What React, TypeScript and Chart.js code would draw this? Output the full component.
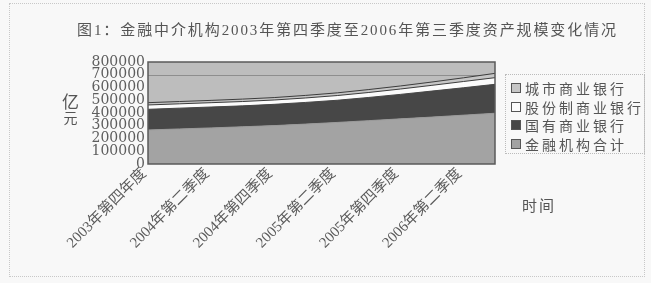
import React, { useEffect, useRef } from "react";
import { Chart, registerables } from "chart.js";

Chart.register(...registerables);

const categories = [
  "2003年第四年度",
  "2004年第一季度",
  "2004年第二季度",
  "2004年第三季度",
  "2004年第四季度",
  "2005年第一季度",
  "2005年第二季度",
  "2005年第三季度",
  "2005年第四季度",
  "2006年第一季度",
  "2006年第二季度",
  "2006年第三季度",
];
const shownTickIndexes = [0, 2, 4, 6, 8, 10];

const seriesNames = ["城市商业银行", "股份制商业银行", "国有商业银行", "金融机构合计"];

const totalInstitutions = [267000, 275000, 283000, 292000, 301000, 313000, 326000, 340000, 354000, 368000, 383000, 398000];
const stateBanks = [162000, 163000, 164000, 164000, 167000, 170000, 174000, 182000, 192000, 204000, 215000, 227000];
const jointStockBanks = [34000, 34000, 34000, 34000, 34000, 35000, 37000, 39000, 42000, 45000, 49000, 52000];
const cityBanks = [18000, 18000, 18000, 19000, 19000, 20000, 21000, 23000, 24000, 26000, 29000, 34000];

const yTicks = [0, 100000, 200000, 300000, 400000, 500000, 600000, 700000, 800000];

const title = "图1：金融中介机构2003年第四季度至2006年第三季度资产规模变化情况";
const yAxisTitle = ["亿", "元"];
const xAxisTitle = "时间";

const legendColors = ["#c6c6c6", "#fbfbfb", "#474747", "#a3a3a3"];

const serif = '"DejaVu Serif", "Noto Sans CJK SC", serif';
const cjk = '"Noto Sans CJK SC", "DejaVu Serif", serif';
const mixed = '"Liberation Serif", "Noto Sans CJK SC", serif';

export default function App() {
  const canvasRef = useRef<HTMLCanvasElement | null>(null);

  useEffect(() => {
    const canvas = canvasRef.current;
    if (!canvas) return;

    const bgPlugin = {
      id: "plotBg",
      beforeDatasetsDraw(chart: any) {
        const { ctx, chartArea } = chart;
        ctx.save();
        ctx.fillStyle = "#bdbdbd";
        ctx.fillRect(chartArea.left, chartArea.top, chartArea.right - chartArea.left, chartArea.bottom - chartArea.top);
        const y = chart.scales.y.getPixelForValue(700000);
        ctx.strokeStyle = "#8e8e8e";
        ctx.lineWidth = 1;
        ctx.beginPath();
        ctx.moveTo(chartArea.left, Math.round(y) + 0.5);
        ctx.lineTo(chartArea.right, Math.round(y) + 0.5);
        ctx.stroke();
        ctx.restore();
      },
      afterDatasetsDraw(chart: any) {
        const { ctx, chartArea } = chart;
        ctx.save();
        ctx.strokeStyle = "#5a5a5a";
        ctx.lineWidth = 1.5;
        ctx.strokeRect(chartArea.left, chartArea.top, chartArea.right - chartArea.left, chartArea.bottom - chartArea.top);
        ctx.restore();
      },
    };

    const chart = new Chart(canvas, {
      type: "line",
      data: {
        labels: categories,
        datasets: [
          {
            label: seriesNames[3],
            data: totalInstitutions,
            backgroundColor: legendColors[3],
            borderColor: "#9a9a9a",
            borderWidth: 1,
            fill: "origin",
            pointRadius: 0,
          },
          {
            label: seriesNames[2],
            data: stateBanks,
            backgroundColor: legendColors[2],
            borderColor: "#474747",
            borderWidth: 1,
            fill: "-1",
            pointRadius: 0,
          },
          {
            label: seriesNames[1],
            data: jointStockBanks,
            backgroundColor: legendColors[1],
            borderColor: "#3c3c3c",
            borderWidth: 1,
            fill: "-1",
            pointRadius: 0,
          },
          {
            label: seriesNames[0],
            data: cityBanks,
            backgroundColor: legendColors[0],
            borderColor: "#3c3c3c",
            borderWidth: 1,
            fill: "-1",
            pointRadius: 0,
          },
        ],
      },
      options: {
        responsive: false,
        animation: false,
        devicePixelRatio: 1,
        layout: { padding: { left: 0, top: 62, right: 156, bottom: 0 } },
        plugins: { legend: { display: false }, tooltip: { enabled: false } },
        elements: { line: { tension: 0 } },
        scales: {
          x: {
            offset: false,
            grid: { display: false, drawTicks: false },
            border: { display: false },
            afterFit(scale: any) {
              scale.height = 119;
            },
            ticks: {
              autoSkip: false,
              maxRotation: 45,
              minRotation: 45,
              padding: 1,
              labelOffset: -4,
              color: "#5a5a5a",
              font: { family: mixed, size: 15 },
              callback: (_v: any, i: number) => (shownTickIndexes.includes(i) ? categories[i] : ""),
            },
          },
          y: {
            stacked: true,
            min: 0,
            max: 800000,
            afterFit(scale: any) {
              scale.width = 148;
            },
            afterBuildTicks(scale: any) {
              scale.ticks = yTicks.map((v) => ({ value: v }));
            },
            grid: { display: false, drawTicks: false },
            border: { display: false },
            ticks: {
              autoSkip: false,
              padding: 3,
              color: "#5e5e5e",
              font: { family: serif, size: 14, lineHeight: 1 },
              callback: (v: any) => String(v),
            },
          },
        },
      },
      plugins: [bgPlugin],
    });

    return () => chart.destroy();
  }, []);

  return (
    <div
      style={{
        position: "fixed",
        left: 0,
        top: 0,
        width: 651,
        height: 283,
        background: "#f8f8f8",
        overflow: "hidden",
      }}
    >
      <div
        style={{
          position: "absolute",
          left: 9,
          top: 3,
          width: 634,
          height: 272,
          border: "1px dotted #c8c8c8",
        }}
      />
      <canvas ref={canvasRef} width={651} height={283} style={{ position: "absolute", left: 0, top: 0 }} />
      <div
        style={{
          position: "absolute",
          left: 0,
          width: 651,
          top: 20,
          textAlign: "center",
          paddingLeft: 44,
          boxSizing: "border-box",
          fontFamily: mixed,
          fontSize: 15,
          letterSpacing: 1.9,
          color: "#555",
          whiteSpace: "nowrap",
          lineHeight: "20px",
        }}
      >
        {title}
      </div>
      <div
        style={{
          position: "absolute",
          left: 62,
          top: 92,
          fontFamily: cjk,
          color: "#555",
          textAlign: "center",
          lineHeight: "17px",
        }}
      >
        <div style={{ fontSize: 17 }}>{yAxisTitle[0]}</div>
        <div style={{ fontSize: 14 }}>{yAxisTitle[1]}</div>
      </div>
      <div
        style={{
          position: "absolute",
          left: 522,
          top: 194,
          fontFamily: cjk,
          fontSize: 15,
          letterSpacing: 2,
          color: "#555",
        }}
      >
        {xAxisTitle}
      </div>
      <div
        style={{
          position: "absolute",
          left: 505,
          top: 74,
          width: 140,
          height: 80,
          border: "1px dotted #bbb",
          boxSizing: "border-box",
          padding: "4px 0 0 5px",
        }}
      >
        {seriesNames.map((name, i) => (
          <div
            key={name}
            style={{
              display: "flex",
              alignItems: "center",
              height: 18.5,
              fontFamily: cjk,
              fontSize: 14,
              letterSpacing: 3,
              color: "#555",
              whiteSpace: "nowrap",
            }}
          >
            <span
              style={{
                display: "inline-block",
                width: 8,
                height: 8,
                background: legendColors[i],
                border: "1px solid #555",
                marginRight: 4,
                flexShrink: 0,
              }}
            />
            {name}
          </div>
        ))}
      </div>
    </div>
  );
}
